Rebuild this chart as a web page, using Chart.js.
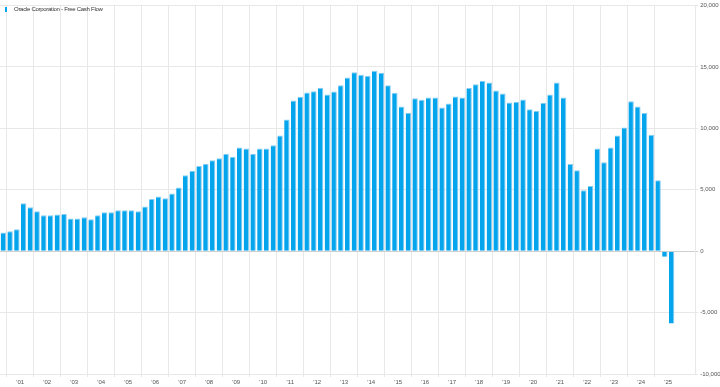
<!DOCTYPE html>
<html>
<head>
<meta charset="utf-8">
<script src="https://cdn.jsdelivr.net/npm/chart.js@4"></script>
<style>
  body { margin: 0; background: #fff; }
  #wrap { position: relative; width: 720px; height: 387px; }
  #legend { position: absolute; left: 5px; top: 6px; font: 6px "Liberation Sans", Arial, sans-serif; color: #333; white-space: nowrap; }
  #legend i { position: absolute; left: 0; top: 1px; width: 2px; height: 5px; background: #04a5ec; }
  #legend span { position: absolute; left: 9px; top: 0; line-height: 7px; letter-spacing: -0.28px; }
</style>
</head>
<body>
<div id="wrap">
  <canvas id="myChart" width="720" height="387"></canvas>
  <div id="legend"><i></i><span>Oracle Corporation - Free Cash Flow</span></div>
</div>
<script>
// quarters, Q4 2000 .. Q2 2026 (last three slots have no data yet)
const quarters = [
    'Q4 2000',
    'Q1 2001', 'Q2 2001', 'Q3 2001', 'Q4 2001',
    'Q1 2002', 'Q2 2002', 'Q3 2002', 'Q4 2002',
    'Q1 2003', 'Q2 2003', 'Q3 2003', 'Q4 2003',
    'Q1 2004', 'Q2 2004', 'Q3 2004', 'Q4 2004',
    'Q1 2005', 'Q2 2005', 'Q3 2005', 'Q4 2005',
    'Q1 2006', 'Q2 2006', 'Q3 2006', 'Q4 2006',
    'Q1 2007', 'Q2 2007', 'Q3 2007', 'Q4 2007',
    'Q1 2008', 'Q2 2008', 'Q3 2008', 'Q4 2008',
    'Q1 2009', 'Q2 2009', 'Q3 2009', 'Q4 2009',
    'Q1 2010', 'Q2 2010', 'Q3 2010', 'Q4 2010',
    'Q1 2011', 'Q2 2011', 'Q3 2011', 'Q4 2011',
    'Q1 2012', 'Q2 2012', 'Q3 2012', 'Q4 2012',
    'Q1 2013', 'Q2 2013', 'Q3 2013', 'Q4 2013',
    'Q1 2014', 'Q2 2014', 'Q3 2014', 'Q4 2014',
    'Q1 2015', 'Q2 2015', 'Q3 2015', 'Q4 2015',
    'Q1 2016', 'Q2 2016', 'Q3 2016', 'Q4 2016',
    'Q1 2017', 'Q2 2017', 'Q3 2017', 'Q4 2017',
    'Q1 2018', 'Q2 2018', 'Q3 2018', 'Q4 2018',
    'Q1 2019', 'Q2 2019', 'Q3 2019', 'Q4 2019',
    'Q1 2020', 'Q2 2020', 'Q3 2020', 'Q4 2020',
    'Q1 2021', 'Q2 2021', 'Q3 2021', 'Q4 2021',
    'Q1 2022', 'Q2 2022', 'Q3 2022', 'Q4 2022',
    'Q1 2023', 'Q2 2023', 'Q3 2023', 'Q4 2023',
    'Q1 2024', 'Q2 2024', 'Q3 2024', 'Q4 2024',
    'Q1 2025', 'Q2 2025', 'Q3 2025', 'Q4 2025',
    'Q1 2026', 'Q2 2026'
];

// free cash flow, millions USD (TTM)
const freeCashFlow = [
    1520,
    1630, 1790, 3900, 3580,
    3250, 2930, 2930, 2980,
    3030, 2660, 2660, 2760,
    2600, 2930, 3170, 3170,
    3330, 3330, 3330, 3250,
    3630, 4260, 4450, 4310,
    4690, 5180, 6180, 6560,
    6940, 7130, 7400, 7560,
    7940, 7700, 8450, 8370,
    7940, 8370, 8370, 8620,
    9430, 10730, 12280, 12580,
    12930, 13030, 13310, 12760,
    13010, 13520, 14150, 14580,
    14370, 14290, 14690, 14530,
    13520, 12900, 11790, 11280,
    12460, 12330, 12520, 12520,
    11710, 12030, 12600, 12520,
    13280, 13600, 13880, 13740,
    13090, 12850, 12110, 12170,
    12360, 11550, 11410, 12090,
    12760, 13740, 12520, 7100,
    6590, 4960, 5310, 8370,
    7240, 8450, 9430, 10080,
    12220, 11790, 11250, 9490,
    5770, -460, -5880, null,
    null, null
];

const yearLabels = ["'01", "'02", "'03", "'04", "'05", "'06", "'07", "'08", "'09", "'10",
    "'11", "'12", "'13", "'14", "'15", "'16", "'17", "'18", "'19", "'20",
    "'21", "'22", "'23", "'24", "'25"];

const yTicks = [-10000, -5000, 0, 5000, 10000, 15000, 20000];

const gridColor = '#e8e8e8';
const labelFont = { family: '"Liberation Sans", Arial, sans-serif', size: 6 };

const ctx = document.getElementById('myChart');

new Chart(ctx, {
    type: 'bar',
    data: {
        labels: quarters,
        datasets: [{
            label: 'Oracle Corporation - Free Cash Flow',
            data: freeCashFlow,
            backgroundColor: '#04a5ec',
            borderColor: '#86cdf3',
            borderWidth: { top: 1, right: 1, left: 0, bottom: 0 },
            borderSkipped: 'start',
            barPercentage: 0.8,
            categoryPercentage: 1.0
        }]
    },
    options: {
        responsive: false,
        animation: false,
        layout: { padding: { top: 5, left: 0, right: 0, bottom: 0 } },
        plugins: {
            legend: { display: false },
            tooltip: { enabled: false }
        },
        scales: {
            x: {
                offset: true,
                grid: {
                    offset: true,
                    tickLength: 3,
                    color: (c) => {
                        const i = c.index;
                        // lines at the chart's left edge and at each year boundary
                        return (i === 0 || (i % 4 === 1 && i <= 97)) ? gridColor : 'rgba(0,0,0,0)';
                    }
                },
                border: { display: false },
                ticks: {
                    autoSkip: false,
                    maxRotation: 0,
                    minRotation: 0,
                    padding: 2,
                    labelOffset: 3.4,
                    color: '#555',
                    font: labelFont,
                    callback: (val, i) => {
                        if ((i - 2) % 4 === 0 && yearLabels[(i - 2) / 4]) return yearLabels[(i - 2) / 4];
                        return '';
                    }
                },
                afterFit: (scale) => { scale.height = 13; }
            },
            y: {
                position: 'right',
                min: -10000,
                max: 20000,
                afterBuildTicks: (scale) => { scale.ticks = yTicks.map(v => ({ value: v })); },
                grid: {
                    tickLength: 3,
                    color: (c) => (c.tick && c.tick.value === 0) ? '#cfcfcf' : gridColor
                },
                border: { display: true, color: gridColor },
                ticks: {
                    padding: 2,
                    color: '#555',
                    font: labelFont
                },
                afterFit: (scale) => { scale.width = 24.75; }
            }
        }
    }
});
</script>
</body>
</html>
